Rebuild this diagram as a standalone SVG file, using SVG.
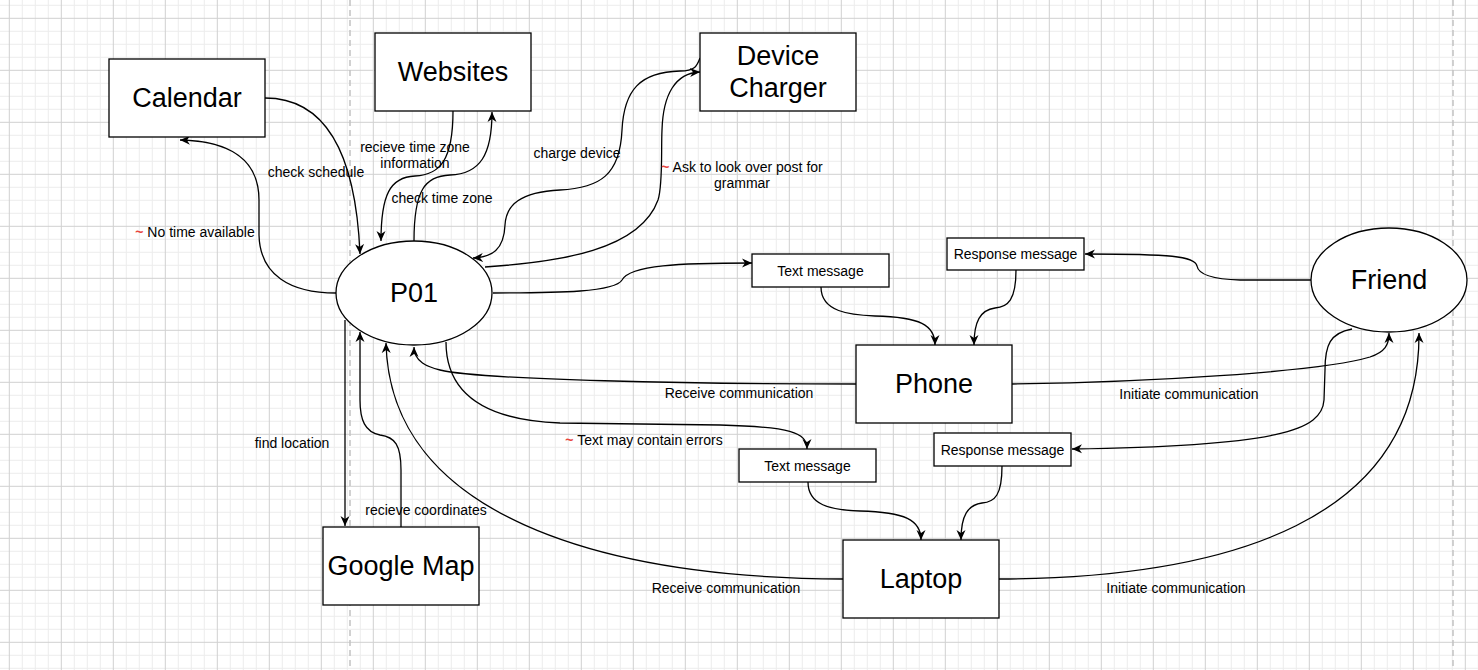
<svg xmlns="http://www.w3.org/2000/svg" width="1478" height="670" viewBox="0 0 1478 670">
<style>
.box{fill:#fff;stroke:#000;stroke-width:1.3}
.edge{fill:none;stroke:#000;stroke-width:1.3;marker-end:url(#arr)}
.big{font-family:"Liberation Sans",Arial,sans-serif;font-size:27px;text-anchor:middle;fill:#000}
.sm{font-family:"Liberation Sans",Arial,sans-serif;font-size:14px;text-anchor:middle;fill:#000}
.red{fill:#e8453c;font-weight:bold}
.page{stroke:#c2c2c2;stroke-width:1.5;stroke-dasharray:6 4;fill:none}
</style>
<defs>
<pattern id="grid" x="8.8" y="17.8" width="52" height="52" patternUnits="userSpaceOnUse">
<path d="M13.5 0V52M26.5 0V52M39.5 0V52M0 13.5H52M0 26.5H52M0 39.5H52" stroke="#ececec" stroke-width="1" fill="none"/>
<path d="M0.5 0V52M0 0.5H52" stroke="#d0d0d0" stroke-width="1" fill="none"/>
</pattern>
<marker id="arr" markerUnits="userSpaceOnUse" markerWidth="12" markerHeight="10" refX="10" refY="5" orient="auto" viewBox="0 0 12 10">
<path d="M0,0.5 L10,5 L0,9.5 L3,5 Z" fill="#000"/>
</marker>
</defs>
<rect width="1478" height="670" fill="#fff"/>
<rect width="1478" height="670" fill="url(#grid)"/>
<path class="page" d="M350 0V670M1453 0V670"/>

<g id="connectors">
<path class="edge" d="M265,98 C330,98 356,160 360,254"/>
<path class="edge" d="M336,293 C290,293 260,275 259,235 L259,200 C259,160 230,141 180,140"/>
<path class="edge" d="M453,111 C453,160 440,175 415,176 C390,177 381,195 381,241"/>
<path class="edge" d="M414,241 C414,190 425,176 450,175 C480,174 492,155 492,112"/>
<path class="edge" d="M700,58 C697,66 695,71 680,71 C640,72 624,90 622,130 C620,175 600,188 560,190 C520,192 506,205 505,225 C504,250 492,257 473,258"/>
<path class="edge" d="M485,267 C560,262 640,250 658,200 C663,185 661,150 662,130 C663,95 675,73 700,72"/>
<path class="edge" d="M493,293 C560,293 615,292 622,280 C630,265 680,263 752,263"/>
<path class="edge" d="M821,287 C821,312 850,315 875,316 C920,317 935,325 935,345"/>
<path class="edge" d="M1016,270 C1016,300 1008,307 995,308 C980,310 974,322 974,345"/>
<path class="edge" d="M1311,280 L1240,280 C1205,279 1198,272 1197,266 C1195,256 1170,254 1085,254"/>
<path class="edge" d="M856,384 C700,384 480,380 440,370 C428,367 414,362 414,347"/>
<path class="edge" d="M1012,384 C1150,382 1320,372 1370,357 C1385,352 1389,345 1389,333"/>
<path class="edge" d="M1352,329 C1330,333 1325,345 1325,370 L1324,400 C1322,430 1280,446 1072,449"/>
<path class="edge" d="M446,342 C446,390 480,420 560,423 L720,425 C790,427 807,432 807,449"/>
<path class="edge" d="M808,482 C808,505 830,510 860,511 C905,512 921,520 921,540"/>
<path class="edge" d="M1002,466 C1002,495 995,502 982,503 C968,505 961,515 961,540"/>
<path class="edge" d="M843,579 C600,578 390,515 386,343"/>
<path class="edge" d="M999,579 C1230,578 1420,520 1419,333"/>
<path class="edge" d="M345,320 L345,526"/>
<path class="edge" d="M401,527 L401,470 C401,445 395,437 380,435 C365,432 360,420 360,400 L360,332"/>
</g>

<g id="edge-labels">
<text class="sm" x="316" y="177">check schedule</text>
<text class="sm" x="195" y="237"><tspan class="red">~</tspan> No time available</text>
<text class="sm" x="415" y="152">recieve time zone</text>
<text class="sm" x="415" y="168">information</text>
<text class="sm" x="442" y="203">check time zone</text>
<text class="sm" x="577" y="158">charge device</text>
<text class="sm" x="742" y="172"><tspan class="red">~</tspan> Ask to look over post for</text>
<text class="sm" x="742" y="188">grammar</text>
<text class="sm" x="644" y="445"><tspan class="red">~</tspan> Text may contain errors</text>
<text class="sm" x="292" y="448">find location</text>
<text class="sm" x="426" y="515">recieve coordinates</text>
<text class="sm" x="739" y="398">Receive communication</text>
<text class="sm" x="726" y="593">Receive communication</text>
<text class="sm" x="1189" y="399">Initiate communication</text>
<text class="sm" x="1176" y="593">Initiate communication</text>
</g>

<g id="calendar"><rect class="box" x="109" y="59" width="156" height="78"/><text class="big" x="187" y="107">Calendar</text></g>
<g id="websites"><rect class="box" x="375" y="33" width="156" height="78"/><text class="big" x="453" y="81">Websites</text></g>
<g id="device-charger"><rect class="box" x="700" y="33" width="156" height="78"/><text class="big" x="778" y="65">Device</text><text class="big" x="778" y="97">Charger</text></g>
<g id="p01"><ellipse class="box" cx="414" cy="293" rx="78" ry="52"/><text class="big" x="414" y="302">P01</text></g>
<g id="friend"><ellipse class="box" cx="1389" cy="280" rx="78" ry="52"/><text class="big" x="1389" y="289">Friend</text></g>
<g id="text-message-1"><rect class="box" x="752" y="254" width="137" height="33"/><text class="sm" x="820.5" y="276">Text message</text></g>
<g id="response-message-1"><rect class="box" x="947" y="238" width="137" height="32"/><text class="sm" x="1015.5" y="259">Response message</text></g>
<g id="phone"><rect class="box" x="856" y="345" width="156" height="78"/><text class="big" x="934" y="393">Phone</text></g>
<g id="text-message-2"><rect class="box" x="739" y="449" width="137" height="33"/><text class="sm" x="807.5" y="471">Text message</text></g>
<g id="response-message-2"><rect class="box" x="934" y="433" width="137" height="33"/><text class="sm" x="1002.5" y="455">Response message</text></g>
<g id="laptop"><rect class="box" x="843" y="540" width="156" height="78"/><text class="big" x="921" y="588">Laptop</text></g>
<g id="google-map"><rect class="box" x="323" y="527" width="156" height="78"/><text class="big" x="401" y="575">Google Map</text></g>
</svg>
